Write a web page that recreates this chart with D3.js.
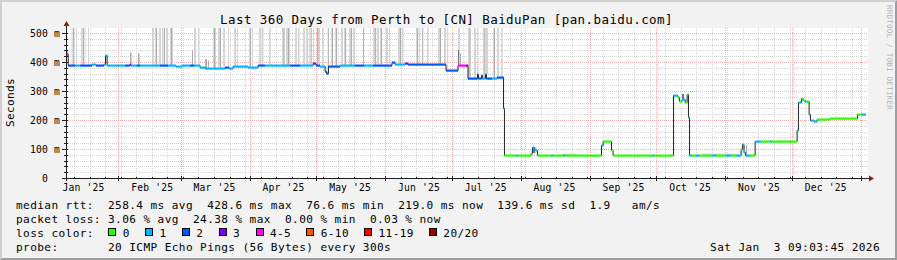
<!DOCTYPE html>
<html>
<head>
<meta charset="utf-8">
<script src="https://cdn.jsdelivr.net/npm/d3@7"></script>
<style>
  body { margin: 0; background: #f2f2f2; }
  text { font-family: "DejaVu Sans Mono", monospace; white-space: pre; }
</style>
</head>
<body>
<div id="chart"></div>
<script>
//time window and axis values
var endTime = Date.UTC(2026, 0, 3, 9, 3, 45);
var spanDays = 360;
var yTicks = [0, 100, 200, 300, 400, 500];

//loss classes
var lossLabels = ["0", "1", "2", "3", "4-5", "6-10", "11-19", "20/20"];
var lossColors = ["#26ff00", "#00b8ff", "#0059ff", "#7e00ff", "#ff00f7", "#ff5500", "#ff0000", "#a10000"];

//median rtt (ms), as change points: day offset from start, value, loss class
var medDay = [0,1.0,4.1,6.3,11.7,13.5,17.1,17.8,18.5,26.6,
  28.8,29.3,32.0,33.3,37.8,42.3,45.9,49.5,52.2,55.8,
  57.6,60.3,62.6,67.1,71.6,73.4,75.2,81.9,86.4,89.6,
  100.8,105.3,111.2,112.5,114.3,116.6,117.2,118.1,123.3,130.1,
  134.1,138.2,146.7,148.1,152.6,153.9,171.0,176.4,178.2,180.0,
  180.9,185.2,185.6,187.0,187.4,188.8,189.2,191.7,194.0,196.9,
  197.3,202.5,203.4,209.3,209.9,210.8,211.5,212.2,218.3,219.2,
  223.7,224.6,241.0,241.7,245.5,246.2,263.7,264.6,273.4,275.4,
  276.1,277.2,278.6,279.5,280.1,280.6,281.7,283.5,284.9,290.7,
  292.5,297.0,299.3,301.5,303.8,304.4,305.1,305.8,307.8,310.1,
  312.8,316.8,317.7,329.0,329.6,331.0,331.7,332.6,333.5,334.4,
  335.0,336.6,338.0,343.8,356.2,357.8];
var medMs = [428,390,389,390,392,391,393,425,389,390,
  393,389,390,389,388,391,390,386,390,391,
  390,383,378,381,382,381,385,383,388,389,
  390,389,397,390,385,370,362,386,388,388,
  389,391,400,392,396,393,374,391,390,389,
  346,358,346,356,345,357,346,345,347,241,
  78,79,78,86,106,100,95,78,78,78,
  79,78,113,126,95,78,78,78,287,278,
  264,271,262,291,210,78,78,78,78,78,
  78,78,78,78,100,118,90,78,78,126,
  126,126,126,165,262,276,270,265,264,222,
  200,198,205,208,219,219];
var medLoss = [4,2,1,2,1,2,1,1,1,2,
  3,1,2,1,1,2,1,1,1,2,
  1,1,1,1,2,1,1,1,2,1,
  2,1,3,2,1,2,2,2,1,2,
  1,2,2,1,3,2,2,4,4,3,
  2,2,2,2,1,2,2,1,2,1,
  0,1,0,0,1,1,1,0,1,0,
  1,0,1,0,0,0,1,0,1,0,
  0,1,0,0,1,1,0,1,0,1,
  0,1,0,1,0,1,1,1,0,1,
  0,1,0,1,1,0,0,1,0,1,
  1,1,0,0,0,1];

//smoke (ping spread): day offset, span in days, top ping (ms), shade 0 light / 1 mid / 2 dark
var smokeDay = [2.5,4.5,6.8,8.3,9.9,38.7,40.1,41.9,43.2,45.0,46.8,57.6,59.4,66.2,68.4,70.7,72.9,75.6,77.0,82.4,
  83.7,86.9,88.2,91.4,97.2,99.0,100.4,103.1,104.4,106.7,108.0,109.4,111.2,113.4,115.2,119.3,121.1,123.8,125.1,127.4,
  129.2,138.2,140.0,141.3,144.0,145.4,149.4,151.2,157.5,158.9,162.5,167.4,170.1,171.5,176.4,180.9,183.6,185.0,187.7,189.0,
  192.2,194.0,195.8,223.7,286.2,
  97.9,113.0,119.7,121.5,125.6,133.7,139.1,141.8,150.3,158.0,168.3,40.5,44.1,47.3,66.6,69.3,82.8,99.9,192.6,
  3.2,7.6,110.1,117.8,128.2,160.3,181.6,188.3,
  0.5,28.8,32.4,56.7,62.6,63.9,177.3,306.0,
  0.5,176.4,277.2,209.7];
var smokeSpan = [.45,.45,.7,.45,.45,.9,.9,.9,.7,.9,1.35,.9,.7,1.35,1.35,.9,.45,.9,.45,.9,
  .45,.9,.7,.7,.9,.9,.45,.9,.7,.9,.9,.45,.45,.9,.7,.9,.9,.9,.45,.9,
  .9,.9,.9,.45,.9,.45,.9,.7,.9,.45,.7,.9,.9,.45,.9,.9,.9,.45,.9,.9,
  .9,.9,.7,5.9,15.3,
  .45,.45,.45,.45,.45,.45,.45,.45,.45,.45,.45,.45,.45,.45,.45,.45,.45,.45,.45,
  .45,.45,.45,.45,.45,.45,.45,.45,
  .45,.7,.7,.45,.9,.45,.45,.5,
  .45,.45,.9,1.5];
var smokeTop = [600,600,600,600,600,600,600,600,600,600,600,600,600,600,600,600,600,600,600,600,
  600,600,600,600,600,600,600,600,600,600,600,600,600,600,600,600,600,600,600,600,
  600,600,600,600,600,600,600,600,600,600,600,600,600,600,600,600,600,600,600,600,
  600,600,600,84,84,
  600,600,600,600,600,600,600,600,600,600,600,600,600,600,600,600,600,600,600,
  600,600,600,600,600,600,600,600,
  440,432,430,441,410,405,430,112,
  430,441,290,105];
var smokeTone = [0,0,0,0,0,0,0,0,0,0,0,0,0,0,0,0,0,0,0,0,
  0,0,0,0,0,0,0,0,0,0,0,0,0,0,0,0,0,0,0,0,
  0,0,0,0,0,0,0,0,0,0,0,0,0,0,0,0,0,0,0,0,
  0,0,0,0,0,
  1,1,1,1,1,1,1,1,1,1,1,1,1,1,1,1,1,1,1,
  1,1,1,1,1,1,1,1,
  1,1,1,1,1,1,1,1,
  2,2,2,2];

//legend texts
var legendRows = [
  "median rtt:  258.4 ms avg  428.6 ms max  76.6 ms min  219.0 ms now  139.6 ms sd  1.9   am/s",
  "packet loss: 3.06 % avg  24.38 % max  0.00 % min  0.03 % now"
];
var probeText = "probe:       20 ICMP Echo Pings (56 Bytes) every 300s";
var stampText = "Sat Jan  3 09:03:45 2026";
var titleText = "Last 360 Days from Perth to [CN] BaiduPan [pan.baidu.com]";

//setup spacing size
var svg_w = 897, svg_h = 260;
var plotL = 66, plotR = 866, plotT = 28, plotB = 178;
var shades = ["#d4d4d4", "#ababab", "#777777"];
var minorCol = "#d6d6d6", majorCol = "#f2b0b0";

var startTime = endTime - spanDays * 864e5;
function dayDate(d) { return new Date(startTime + d * 864e5); }

var svg = d3.select("#chart").append("svg")
    .attr("width", svg_w)
    .attr("height", svg_h);

//background and frame
svg.append("rect").attr("width", svg_w).attr("height", svg_h).attr("fill", "#f2f2f2");
svg.append("path").attr("d", "M0,0H897L895,2H2V258L0,260Z").attr("fill", "#cfcfcf");
svg.append("path").attr("d", "M897,0V260H0L2,258H895V2Z").attr("fill", "#9e9e9e");

//scales
var xScale = d3.scaleUtc()
    .domain([new Date(startTime), new Date(endTime)])
    .range([plotL, plotR]);
var yScale = d3.scaleLinear()
    .domain([0, 500])
    .range([plotB, 33]);

//canvas
svg.append("rect")
    .attr("x", plotL).attr("y", plotT)
    .attr("width", plotR - plotL + 2).attr("height", plotB - plotT)
    .attr("fill", "#ffffff");

//grid
var grid = svg.append("g").attr("shape-rendering", "crispEdges");
var minorY = d3.range(20, 520, 20).filter(function(v) { return v % 100 != 0; });
grid.selectAll(".gy").data(minorY).enter().append("line")
    .attr("x1", plotL).attr("x2", plotR + 2)
    .attr("y1", function(d) { return Math.round(yScale(d)) + 0.5; })
    .attr("y2", function(d) { return Math.round(yScale(d)) + 0.5; })
    .attr("stroke", minorCol).attr("stroke-dasharray", "1,1");
var weeks = d3.utcSunday.range(new Date(startTime), new Date(endTime));
grid.selectAll(".gx").data(weeks).enter().append("line")
    .attr("x1", function(d) { return Math.round(xScale(d)) + 0.5; })
    .attr("x2", function(d) { return Math.round(xScale(d)) + 0.5; })
    .attr("y1", plotT).attr("y2", plotB)
    .attr("stroke", minorCol).attr("stroke-dasharray", "1,1");
grid.selectAll(".my").data(yTicks.slice(1)).enter().append("line")
    .attr("x1", plotL).attr("x2", plotR + 2)
    .attr("y1", function(d) { return Math.round(yScale(d)) + 0.5; })
    .attr("y2", function(d) { return Math.round(yScale(d)) + 0.5; })
    .attr("stroke", majorCol).attr("stroke-dasharray", "1,1");
var months = d3.utcMonth.range(new Date(startTime), new Date(endTime));
grid.selectAll(".mx").data(months).enter().append("line")
    .attr("x1", function(d) { return Math.round(xScale(d)) + 0.5; })
    .attr("x2", function(d) { return Math.round(xScale(d)) + 0.5; })
    .attr("y1", plotT).attr("y2", plotB)
    .attr("stroke", majorCol).attr("stroke-dasharray", "1,1");

//data area clip
svg.append("clipPath").attr("id", "plot")
    .append("rect").attr("x", plotL).attr("y", plotT)
    .attr("width", plotR - plotL + 2).attr("height", plotB - plotT);
var g = svg.append("g").attr("clip-path", "url(#plot)");

function medianAt(day) {
    var i = d3.bisectRight(medDay, day) - 1;
    return medMs[Math.max(0, i)];
}

//smoke
var smoke = d3.range(smokeDay.length).sort(function(a, b) { return smokeTone[a] - smokeTone[b]; });
g.selectAll(".smoke").data(smoke).enter().append("rect")
    .attr("x", function(i) { return xScale(dayDate(smokeDay[i])); })
    .attr("width", function(i) { return xScale(dayDate(smokeDay[i] + smokeSpan[i])) - xScale(dayDate(smokeDay[i])); })
    .attr("y", function(i) { return yScale(smokeTop[i]); })
    .attr("height", function(i) { return yScale(medianAt(smokeDay[i])) - yScale(smokeTop[i]); })
    .attr("fill", function(i) { return shades[smokeTone[i]]; });

//median line (thin dark) and loss-coloured band
var pts = medDay.map(function(d, i) { return [d, medMs[i]]; });
pts.push([spanDays, medMs[medMs.length - 1]]);
var line = d3.line()
    .x(function(d) { return xScale(dayDate(d[0])); })
    .y(function(d) { return Math.round(yScale(d[1])) + 0.5; })
    .curve(d3.curveStepAfter);
g.append("path").datum(pts)
    .attr("d", line)
    .attr("fill", "none")
    .attr("stroke", "#202020")
    .attr("stroke-width", 1);

g.selectAll(".band").data(medDay).enter().append("rect")
    .attr("x", function(d) { return xScale(dayDate(d)); })
    .attr("width", function(d, i) {
        var next = i + 1 < medDay.length ? medDay[i + 1] : spanDays;
        return xScale(dayDate(next)) - xScale(dayDate(d));
    })
    .attr("y", function(d, i) { return Math.round(yScale(medMs[i])) - 0.5; })
    .attr("height", 2.2)
    .attr("fill", function(d, i) { return lossColors[medLoss[i]]; });

//axes
var axisCol = "#1f1f1f";
var yAxis = svg.append("g")
    .attr("transform", "translate(" + plotL + ",0)")
    .call(d3.axisLeft(yScale).tickValues(yTicks).tickSize(0).tickPadding(6)
        .tickFormat(function(d) { return d == 0 ? "0" : d + " m"; }));
yAxis.select(".domain").remove();
yAxis.selectAll("text")
    .attr("dx", function(d) { return d == 0 ? -12 : 0; })
    .attr("dy", "0.36em")
    .style("font-family", "DejaVu Sans Mono")
    .style("font-size", "9.7px")
    .style("letter-spacing", "0.16px")
    .attr("fill", "#000");

var labelMonths = d3.utcMonth.range(new Date(Date.UTC(2025, 0, 1)), new Date(endTime))
    .map(function(m) { return new Date(Date.UTC(m.getUTCFullYear(), m.getUTCMonth(), 16)); })
    .filter(function(m) { return m.getTime() < endTime; });
var xAxis = svg.append("g")
    .attr("transform", "translate(0," + plotB + ")")
    .call(d3.axisBottom(xScale)
        .tickValues(labelMonths)
        .tickSize(0).tickPadding(6)
        .tickFormat(d3.utcFormat("%b '%y")));
xAxis.select(".domain").remove();
xAxis.selectAll("text")
    .style("font-family", "DejaVu Sans Mono")
    .style("font-size", "9.7px")
    .style("letter-spacing", "0.16px")
    .attr("fill", "#000");

//axis lines and ticks
var axes = svg.append("g").attr("shape-rendering", "crispEdges").attr("stroke", axisCol);
axes.append("line").attr("x1", 62).attr("x2", 869).attr("y1", plotB + 0.5).attr("y2", plotB + 0.5);
axes.append("line").attr("x1", plotL + 0.5).attr("x2", plotL + 0.5).attr("y1", plotB + 3).attr("y2", 25);
axes.selectAll(".yt").data(yTicks).enter().append("line")
    .attr("x1", plotL - 4).attr("x2", plotL + 2)
    .attr("y1", function(d) { return Math.round(yScale(d)) + 0.5; })
    .attr("y2", function(d) { return Math.round(yScale(d)) + 0.5; });
axes.selectAll(".ym").data(minorY).enter().append("line")
    .attr("x1", plotL - 2).attr("x2", plotL + 2)
    .attr("y1", function(d) { return Math.round(yScale(d)) + 0.5; })
    .attr("y2", function(d) { return Math.round(yScale(d)) + 0.5; });
axes.selectAll(".xt").data(months).enter().append("line")
    .attr("x1", function(d) { return Math.round(xScale(d)) + 0.5; })
    .attr("x2", function(d) { return Math.round(xScale(d)) + 0.5; })
    .attr("y1", plotB - 2).attr("y2", plotB + 3);
axes.selectAll(".xw").data(weeks).enter().append("line")
    .attr("x1", function(d) { return Math.round(xScale(d)) + 0.5; })
    .attr("x2", function(d) { return Math.round(xScale(d)) + 0.5; })
    .attr("y1", plotB - 1).attr("y2", plotB + 1);

//arrows
svg.append("path").attr("d", "M63.5,26L66.5,21L69.5,26Z").attr("fill", "#7f1f1f");
svg.append("path").attr("d", "M869,175.5L874,178.5L869,181.5Z").attr("fill", "#7f1f1f");

//title
svg.append("text")
    .attr("x", 446.5).attr("y", 24)
    .attr("text-anchor", "middle")
    .style("font-size", "12.5px")
    .style("letter-spacing", "0.42px")
    .text(titleText);

//y axis label
svg.append("text")
    .attr("transform", "translate(13.5,102.5) rotate(-90)")
    .attr("text-anchor", "middle")
    .style("font-size", "11.1px")
    .style("letter-spacing", "0.35px")
    .text("Seconds");

//watermark
svg.append("text")
    .attr("transform", "translate(887,5) rotate(90)")
    .style("font-size", "7.6px")
    .style("letter-spacing", "0.2px")
    .attr("fill", "#b4b4b4")
    .text("RRDTOOL / TOBI OETIKER");

//legend
var legendFont = "11.1px", legendLs = "0.4px";
legendRows.forEach(function(r, i) {
    svg.append("text").attr("x", 16).attr("y", 208.5 + i * 14)
        .style("font-size", legendFont).style("letter-spacing", legendLs)
        .text(r);
});
svg.append("text").attr("x", 16).attr("y", 236.5)
    .style("font-size", legendFont).style("letter-spacing", legendLs)
    .text("loss color:");
var lx = 108.3;
lossLabels.forEach(function(l, i) {
    svg.append("rect")
        .attr("x", lx + 0.5).attr("y", 228.5)
        .attr("width", 7).attr("height", 7)
        .attr("fill", lossColors[i]).attr("stroke", "#000").attr("stroke-width", 1)
        .attr("shape-rendering", "crispEdges");
    svg.append("text").attr("x", lx + 14.4).attr("y", 236.5)
        .style("font-size", legendFont).style("letter-spacing", legendLs)
        .text(l);
    lx += 29.8 + 7.0 * l.length;
});
svg.append("text").attr("x", 16).attr("y", 250.5)
    .style("font-size", legendFont).style("letter-spacing", legendLs)
    .text(probeText);
svg.append("text").attr("x", 880).attr("y", 250.5)
    .attr("text-anchor", "end")
    .style("font-size", legendFont).style("letter-spacing", legendLs)
    .text(stampText);
</script>
</body>
</html>
